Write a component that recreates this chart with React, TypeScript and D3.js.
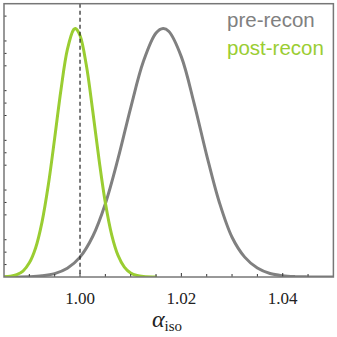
import React from "react";
import * as d3 from "d3";

// alpha_iso grid and normalised posteriors
const preAlpha = [0.985, 0.99, 0.9925, 0.995, 0.9975, 1.0, 1.0025, 1.005, 1.0075, 1.01, 1.0125, 1.015, 1.0164, 1.0175, 1.02, 1.0225, 1.025, 1.0275, 1.03, 1.0325, 1.035, 1.0375, 1.04, 1.0425, 1.045, 1.0475, 1.05];
const preProb = [0.0, 0.0014, 0.0047, 0.0136, 0.035, 0.08, 0.163, 0.295, 0.476, 0.681, 0.867, 0.982, 1.0, 0.989, 0.886, 0.7, 0.49, 0.3, 0.16, 0.08, 0.036, 0.014, 0.005, 0.0015, 0.0004, 0.0001, 0.0];

const postAlpha = [0.985, 0.98625, 0.9875, 0.98875, 0.99, 0.99125, 0.9925, 0.99375, 0.995, 0.99625, 0.9975, 0.99875, 0.9991, 1.0, 1.00125, 1.0025, 1.00375, 1.005, 1.00625, 1.0075, 1.00875, 1.01, 1.01125, 1.0125, 1.0152];
const postProb = [0.001, 0.0033, 0.0095, 0.024, 0.057, 0.118, 0.221, 0.371, 0.559, 0.755, 0.915, 0.996, 1.0, 0.972, 0.852, 0.67, 0.473, 0.299, 0.17, 0.087, 0.04, 0.016, 0.006, 0.002, 0.0];

const xTickLabels = [1.0, 1.02, 1.04];
const legendNames = ["pre-recon", "post-recon"];

const W = 337;
const H = 337;
const grey = "#808080";
const green = "#9acd32";
const serif = "'Liberation Serif', 'DejaVu Serif', serif";

export default function App() {
  const x = d3.scaleLinear().domain([0.985, 1.05]).range([4, 333.4]);
  const y = d3.scaleLinear().domain([0, 1.1]).range([277, 3.7]);

  const line = d3
    .line<[number, number]>()
    .x((d) => x(d[0]))
    .y((d) => y(d[1]))
    .curve(d3.curveCatmullRom);

  const pre = preAlpha.map((a, i) => [a, preProb[i]] as [number, number]);
  const post = postAlpha.map((a, i) => [a, postProb[i]] as [number, number]);

  // minor ticks every 0.005 on x, every 0.05 on y (majors on y have no mark)
  const xTicks = d3.range(198, 210).map((k) => k * 0.005);
  const yTicks = d3.range(1, 22).filter((k) => k % 4 !== 0).map((k) => k * 0.05);

  const [x0, x1] = x.range();
  const [y0, y1] = y.range();

  return (
    <div style={{ position: "absolute", left: 0, top: 0 }}>
      <svg width={W} height={H} style={{ display: "block" }}>
        <rect width={W} height={H} fill="#fff" />
        <defs>
          <clipPath id="plot">
            <rect x={x0} y={y1} width={x1 - x0} height={y0 - y1} />
          </clipPath>
        </defs>

        <g clipPath="url(#plot)">
          <path d={line(pre) || ""} fill="none" stroke={grey} strokeWidth={3} />
          <path d={line(post) || ""} fill="none" stroke={green} strokeWidth={3} />
        </g>

        <line x1={x(1.0)} x2={x(1.0)} y1={y1} y2={y0} stroke="#222" strokeWidth={1.2} strokeDasharray="4,3" />

        {xTicks.map((t, i) => {
          const major = xTickLabels.some((v) => Math.abs(v - t) < 1e-6);
          return (
            <line key={i} x1={x(t)} x2={x(t)} y1={y0} y2={y0 - (major ? 4 : 3)} stroke="#333" strokeWidth={1} />
          );
        })}
        {yTicks.map((t, i) => (
          <line key={i} x1={x0} x2={x0 + 2.5} y1={y(t)} y2={y(t)} stroke="#333" strokeWidth={1} />
        ))}

        <rect x={x0} y={y1} width={x1 - x0} height={y0 - y1} fill="none" stroke="#777" strokeWidth={1.5} />

        {xTickLabels.map((t) => (
          <text key={t} x={x(t)} y={303.5} textAnchor="middle" style={{ fontFamily: serif }} fontSize={17} fill="#222">
            {t.toFixed(2)}
          </text>
        ))}

        <text x={152} y={327} style={{ fontFamily: serif }} fontSize={24} fill="#222">
          <tspan fontStyle="italic">α</tspan>
          <tspan fontSize={15} dy={4}>iso</tspan>
        </text>

        <text x={227} y={26.5} style={{ fontFamily: "'Liberation Sans', sans-serif" }} fontSize={20.5} fill={grey}>
          {legendNames[0]}
        </text>
        <text x={227} y={55} style={{ fontFamily: "'Liberation Sans', sans-serif" }} fontSize={20.5} fill={green}>
          {legendNames[1]}
        </text>
      </svg>
    </div>
  );
}
